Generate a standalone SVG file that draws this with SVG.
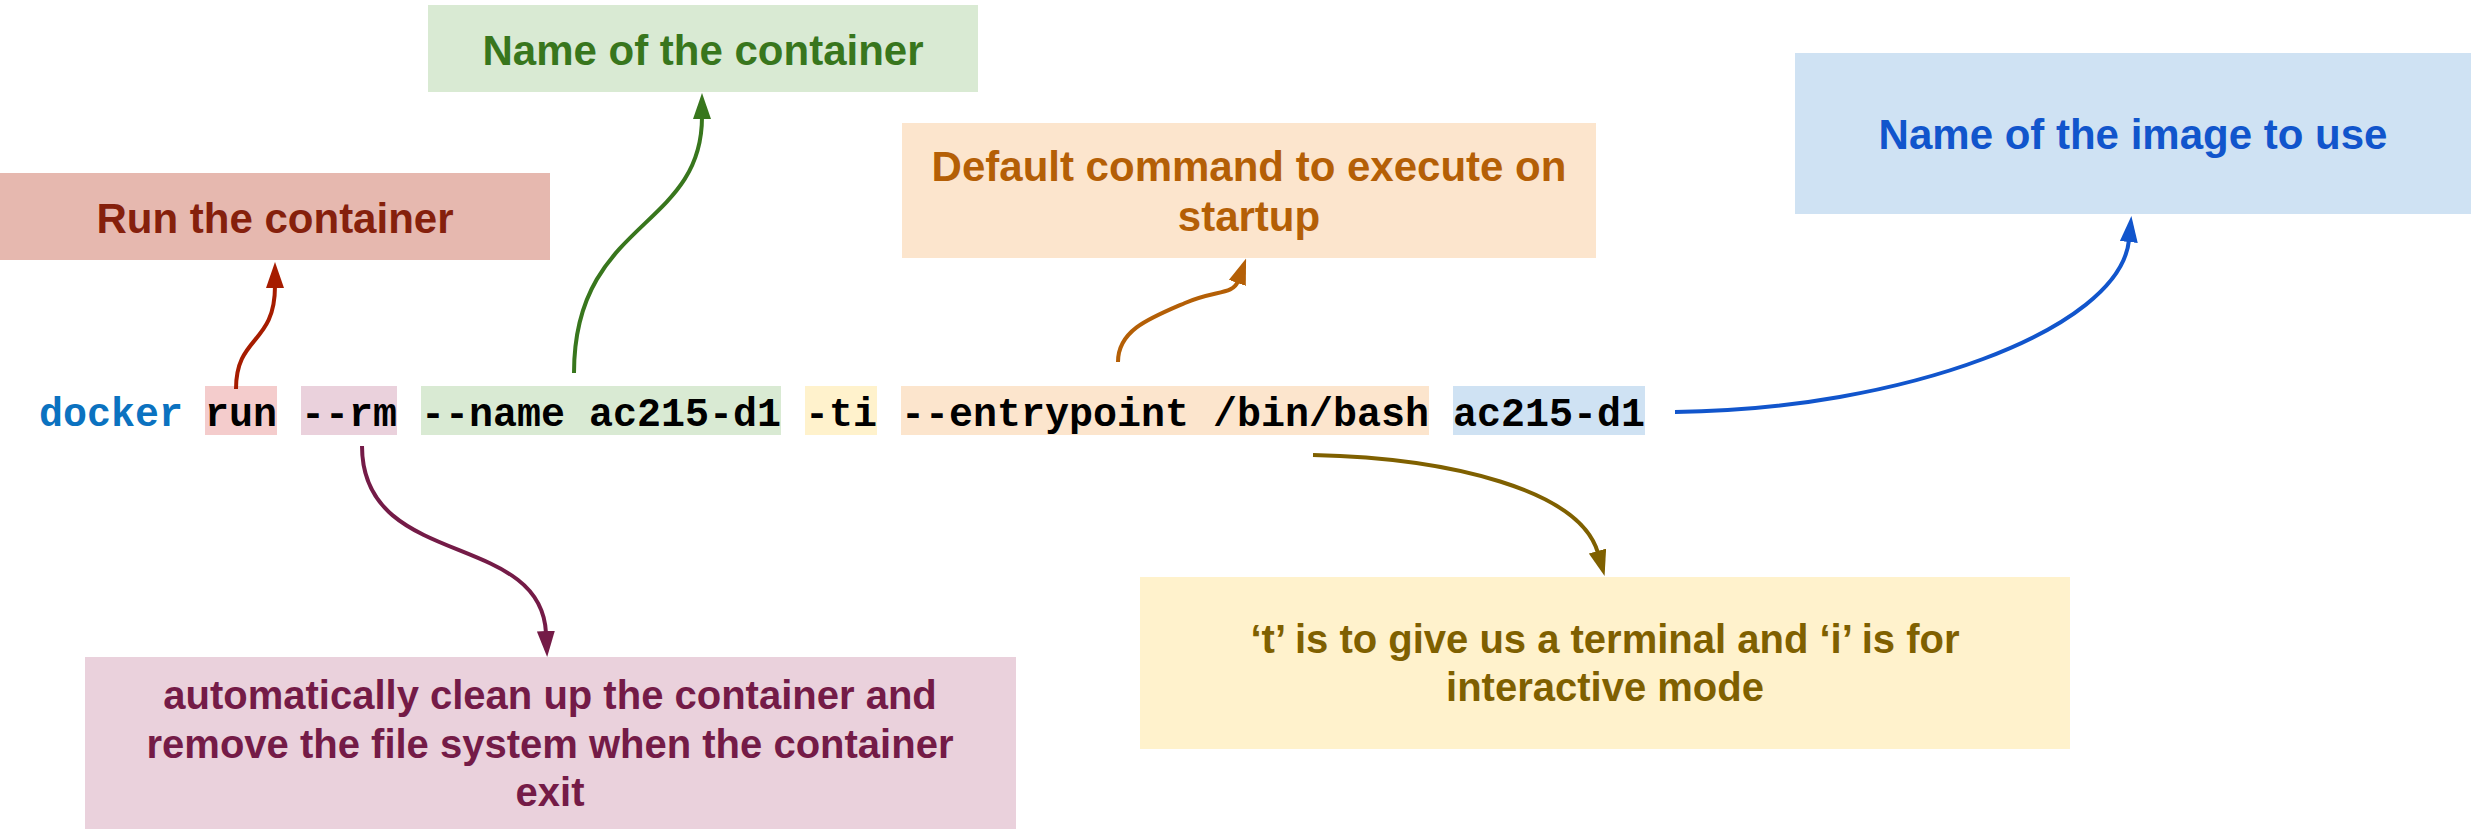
<svg xmlns="http://www.w3.org/2000/svg" width="2478" height="829" viewBox="0 0 2478 829">
<style>
.cmd{font-family:"Liberation Mono","Courier New",monospace;font-weight:bold;font-size:40px;fill:#000000;}
.lbl{font-family:"Liberation Sans",Arial,sans-serif;font-weight:bold;font-size:42px;text-anchor:middle;}
.sm{font-size:40px;}
.conn{fill:none;stroke-width:4;}
</style>
<defs>
<marker id="mRed" markerUnits="userSpaceOnUse" markerWidth="26" markerHeight="18" viewBox="0 0 26 18" refX="2" refY="9" orient="auto"><path d="M0,0 L26,9 L0,18 z" fill="#a61c00"/></marker>
<marker id="mGreen" markerUnits="userSpaceOnUse" markerWidth="26" markerHeight="18" viewBox="0 0 26 18" refX="2" refY="9" orient="auto"><path d="M0,0 L26,9 L0,18 z" fill="#38761d"/></marker>
<marker id="mOrange" markerUnits="userSpaceOnUse" markerWidth="26" markerHeight="18" viewBox="0 0 26 18" refX="2" refY="9" orient="auto"><path d="M0,0 L26,9 L0,18 z" fill="#b45f06"/></marker>
<marker id="mBlue" markerUnits="userSpaceOnUse" markerWidth="26" markerHeight="18" viewBox="0 0 26 18" refX="2" refY="9" orient="auto"><path d="M0,0 L26,9 L0,18 z" fill="#1155cc"/></marker>
<marker id="mPurple" markerUnits="userSpaceOnUse" markerWidth="26" markerHeight="18" viewBox="0 0 26 18" refX="2" refY="9" orient="auto"><path d="M0,0 L26,9 L0,18 z" fill="#741b47"/></marker>
<marker id="mOlive" markerUnits="userSpaceOnUse" markerWidth="26" markerHeight="18" viewBox="0 0 26 18" refX="2" refY="9" orient="auto"><path d="M0,0 L26,9 L0,18 z" fill="#7f6000"/></marker>
</defs>
<rect width="2478" height="829" fill="#ffffff"/>

<g id="tok-docker"><text class="cmd" x="39" y="426" style="fill:#0b72c0">docker</text></g>
<g id="tok-run"><rect x="205" y="386" width="72" height="49" fill="#f4cccc"/><text class="cmd" x="205" y="426">run</text></g>
<g id="tok-rm"><rect x="301" y="386" width="96" height="49" fill="#ead1dc"/><text class="cmd" x="301" y="426">--rm</text></g>
<g id="tok-name"><rect x="421" y="386" width="360" height="49" fill="#d9ead3"/><text class="cmd" x="421" y="426">--name ac215-d1</text></g>
<g id="tok-ti"><rect x="805" y="386" width="72" height="49" fill="#fff2cc"/><text class="cmd" x="805" y="426">-ti</text></g>
<g id="tok-entrypoint"><rect x="901" y="386" width="528" height="49" fill="#fce5cd"/><text class="cmd" x="901" y="426">--entrypoint /bin/bash</text></g>
<g id="tok-image"><rect x="1453" y="386" width="192" height="49" fill="#cfe2f3"/><text class="cmd" x="1453" y="426">ac215-d1</text></g>

<g id="lbl-run"><rect x="0" y="173" width="550" height="87" fill="#e6b8af"/><text class="lbl" x="275" y="233" fill="#85200c">Run the container</text></g>
<g id="lbl-name"><rect x="428" y="5" width="550" height="87" fill="#d9ead3"/><text class="lbl" x="703" y="65" fill="#38761d">Name of the container</text></g>
<g id="lbl-entrypoint"><rect x="902" y="123" width="694" height="135" fill="#fce5cd"/><text class="lbl" fill="#b45f06"><tspan x="1249" y="181">Default command to execute on</tspan><tspan x="1249" y="231">startup</tspan></text></g>
<g id="lbl-image"><rect x="1795" y="53" width="676" height="161" fill="#cfe2f3"/><text class="lbl" x="2133" y="149" fill="#1155cc">Name of the image to use</text></g>
<g id="lbl-rm"><rect x="85" y="657" width="931" height="172" fill="#ead1dc"/><text class="lbl sm" fill="#741b47"><tspan x="550" y="709">automatically clean up the container and</tspan><tspan x="550" y="758">remove the file system when the container</tspan><tspan x="550" y="806">exit</tspan></text></g>
<g id="lbl-ti"><rect x="1140" y="577" width="930" height="172" fill="#fff2cc"/><text class="lbl sm" fill="#7f6000"><tspan x="1605" y="653">‘t’ is to give us a terminal and ‘i’ is for</tspan><tspan x="1605" y="701">interactive mode</tspan></text></g>

<g id="connectors">
<path class="conn" stroke="#a61c00" marker-end="url(#mRed)" d="M236,389 C236,335 275,345 275,286"/>
<path class="conn" stroke="#38761d" marker-end="url(#mGreen)" d="M574,373 C574,220 702,230 702,117"/>
<path class="conn" stroke="#b45f06" marker-end="url(#mOrange)" d="M1118,362 C1118,330 1150,318 1185,303 C1215,290 1233,295 1238,281"/>
<path class="conn" stroke="#1155cc" marker-end="url(#mBlue)" d="M1675,412 C1900,410 2120,330 2129,240"/>
<path class="conn" stroke="#741b47" marker-end="url(#mPurple)" d="M362,446 C362,570 541,530 546,633"/>
<path class="conn" stroke="#7f6000" marker-end="url(#mOlive)" d="M1313,455 C1450,458 1580,490 1598,553"/>
</g>
</svg>
